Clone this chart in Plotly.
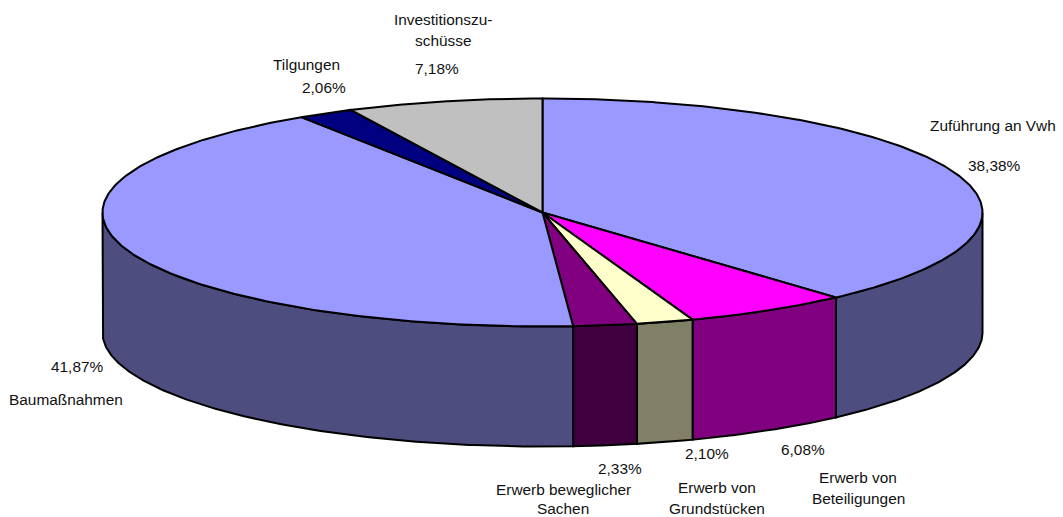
import numpy as np
import plotly.graph_objects as go

names = ["Zuführung an Vwh", "Erwerb von Beteiligungen", "Erwerb von Grundstücken",
         "Erwerb beweglicher Sachen", "Baumaßnahmen", "Tilgungen", "Investitionszuschüsse"]
values = [38.38, 6.08, 2.10, 2.33, 41.87, 2.06, 7.18]
top_colors = ["#9999FF", "#FF00FF", "#FFFFCC", "#800080", "#9999FF", "#000080", "#C0C0C0"]
side_colors = ["#4D4D80", "#800080", "#808066", "#400040", "#4D4D80", "#000040", "#606060"]

label_texts = ["Zuführung an Vwh", "38,38%", "6,08%", "Erwerb von", "Beteiligungen",
               "2,10%", "Erwerb von", "Grundstücken", "2,33%", "Erwerb beweglicher", "Sachen",
               "41,87%", "Baumaßnahmen", "Tilgungen", "2,06%", "Investitionszu-", "schüsse", "7,18%"]
label_x = [993, 994, 803, 858, 858, 707, 717, 717, 620, 563, 563, 77, 66, 306, 324, 443, 443, 437]
label_y = [125, 165, 449, 477, 498, 453, 487, 508, 468, 489, 508, 366, 399, 64, 87, 19, 40, 68]

CX, CY, RX, RY, DEPTH = 542.5, 212.5, 440, 114, 120

def pt(a, dy=0):
    return CX + RX * np.sin(a), CY - RY * np.cos(a) + dy

fig = go.Figure()
edges = np.cumsum([0] + values) / sum(values) * 2 * np.pi
LINE = dict(color="black", width=2)

# side walls
for i in range(len(values)):
    lo, hi = max(edges[i], np.pi / 2), min(edges[i + 1], 3 * np.pi / 2)
    if hi <= lo:
        continue
    a = np.linspace(lo, hi, 160)
    x0, y0 = pt(a)
    x1, y1 = pt(a[::-1], DEPTH)
    fig.add_trace(go.Scatter(x=np.r_[x0, x1, x0[0]], y=np.r_[y0, y1, y0[0]], mode="lines", fill="toself",
                             fillcolor=side_colors[i], line=LINE, hoverinfo="skip"))
# top slices
for i in range(len(values)):
    a = np.linspace(edges[i], edges[i + 1], 240)
    x0, y0 = pt(a)
    fig.add_trace(go.Scatter(x=np.r_[CX, x0, CX], y=np.r_[CY, y0, CY], mode="lines", fill="toself",
                             fillcolor=top_colors[i], line=LINE, hoverinfo="skip"))

for t, x, y in zip(label_texts, label_x, label_y):
    fig.add_annotation(x=x, y=y, text=t, showarrow=False, xanchor="center", yanchor="middle",
                       font=dict(family="Liberation Sans, Arial", size=15.4, color="#111111"))

fig.update_layout(width=1063, height=517, margin=dict(l=0, r=0, t=0, b=0), showlegend=False,
                  paper_bgcolor="white", plot_bgcolor="white",
                  xaxis=dict(range=[0, 1063], visible=False, fixedrange=True),
                  yaxis=dict(range=[517, 0], visible=False, fixedrange=True))
fig.write_html("out.html", config=dict(displayModeBar=False),
               post_script="document.body.style.margin='0';document.documentElement.style.overflow='hidden';")
